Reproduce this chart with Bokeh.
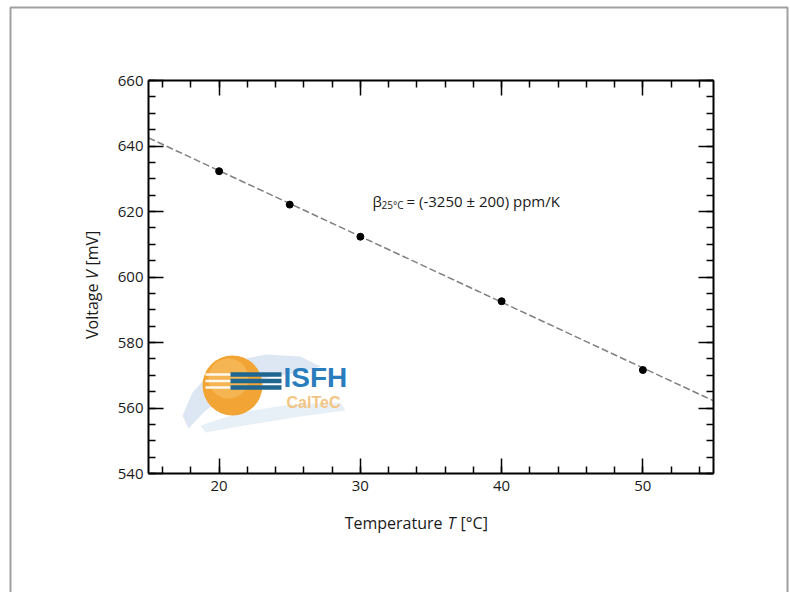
import math
from bokeh.plotting import figure
from bokeh.models import Label, BoxAnnotation, LinearAxis, SingleIntervalTicker, ColumnDataSource, Range1d
from bokeh.embed import file_html
from bokeh.resources import INLINE

# ---- data ----
temperature = [20, 25, 30, 40, 50]            # T [°C]
voltage = [632.3, 622.1, 612.3, 592.6, 571.6]  # V [mV]
fit_temperature = [15, 55]
fit_voltage = [642.5, 562.2]
x_limits = [15, 55]
y_limits = [540, 660]
x_major_step = 10
y_major_step = 20
annotation_text = "= (-3250 ± 200) ppm/K"

FONT = "Open Sans"
W, H = 790, 592
X0, X1 = x_limits
Y0, Y1 = y_limits
FL, FR, FT, FB = 148, 713, 80, 473   # plot box in page pixels


def px(xp):
    return X0 + (xp - FL) * (X1 - X0) / (FR - FL)


def py(yp):
    return Y1 - (yp - FT) * (Y1 - Y0) / (FB - FT)


# the figure frame spans the whole page; the plot box is drawn by four fixed axes
p = figure(width=W, height=H, x_range=Range1d(px(0), px(W)), y_range=Range1d(py(H), py(0)),
           output_backend="svg", toolbar_location=None, min_border=0)
p.xgrid.visible = False
p.ygrid.visible = False
p.outline_line_color = None
p.background_fill_color = "white"
p.border_fill_color = "white"

TXT = "#1a1a1a"


def style_axis(ax, labels=True, standoff=5):
    ax.axis_line_color = "black"
    ax.axis_line_width = 2
    ax.major_tick_line_color = "black"
    ax.major_tick_line_width = 1.5
    ax.minor_tick_line_color = "black"
    ax.minor_tick_line_width = 1.5
    ax.major_tick_in = 15
    ax.major_tick_out = 0
    ax.minor_tick_in = 7
    ax.minor_tick_out = 0
    ax.major_label_standoff = standoff
    ax.major_label_text_font = FONT
    ax.major_label_text_font_size = "15px"
    ax.major_label_text_color = TXT if labels else None
    ax.axis_label = None


bottom = p.xaxis[0]
left = p.yaxis[0]
bottom.ticker = SingleIntervalTicker(interval=x_major_step, num_minor_ticks=5)
left.ticker = SingleIntervalTicker(interval=y_major_step, num_minor_ticks=4)
bottom.fixed_location = Y0
bottom.bounds = (X0, X1)
left.fixed_location = X0
left.bounds = (Y0, Y1)
style_axis(bottom, True, 7)
style_axis(left, True, 5)

top = LinearAxis(ticker=SingleIntervalTicker(interval=x_major_step, num_minor_ticks=5),
                 fixed_location=Y1, bounds=(X0, X1))
right = LinearAxis(ticker=SingleIntervalTicker(interval=y_major_step, num_minor_ticks=4),
                   fixed_location=X1, bounds=(Y0, Y1))
style_axis(top, False)
style_axis(right, False)
p.add_layout(top, "above")
p.add_layout(right, "right")

# ---- logo approximation (ISFH CalTeC) ----
sw_x = [px(v) for v in [182, 192, 210, 235, 265, 300, 320, 300, 262, 232, 205, 188]]
sw_y = [py(v) for v in [415, 392, 372, 360, 354, 356, 366, 372, 378, 392, 410, 428]]
p.patch(sw_x, sw_y, fill_color="#aac4e2", fill_alpha=0.4, line_color=None)
sw2_x = [px(v) for v in [200, 240, 290, 340, 345, 300, 250, 205]]
sw2_y = [py(v) for v in [425, 412, 404, 402, 410, 416, 424, 432]]
p.patch(sw2_x, sw2_y, fill_color="#c4d6ea", fill_alpha=0.4, line_color=None)

p.scatter([px(232)], [py(385)], size=60, fill_color="#f2a535", line_color=None)
p.scatter([px(228)], [py(378)], size=40, fill_color="#f7c26a", fill_alpha=0.55, line_color=None)
for yy in (374, 380.5, 387):
    p.quad(left=px(205), right=px(231), top=py(yy - 1.2), bottom=py(yy + 1.2),
           fill_color="white", fill_alpha=0.9, line_color=None)
    p.quad(left=px(230), right=px(281), top=py(yy - 2.2), bottom=py(yy + 2.2),
           fill_color="#1f6690", line_color=None)

p.add_layout(Label(x=px(283), y=py(376.5), text="ISFH", text_font="Liberation Sans",
                   text_font_style="bold", text_font_size="28px", text_color="#2a7dbd",
                   text_align="left", text_baseline="middle"))
p.add_layout(Label(x=px(286), y=py(402), text="CalTeC", text_font="Liberation Sans",
                   text_font_style="bold", text_font_size="16px", text_color="#f3c584",
                   text_align="left", text_baseline="middle"))

# ---- fit line and data ----
p.line(fit_temperature, fit_voltage, line_color="#808080", line_width=1.5, line_dash="7 3")
src = ColumnDataSource(dict(t=temperature, v=voltage))
p.scatter("t", "v", source=src, size=7, fill_color="black", line_color="black")

# ---- annotation beta ----
p.add_layout(Label(x=px(372), y=py(200), text="β", text_font=FONT, text_font_size="15px",
                   text_color=TXT, text_align="left", text_baseline="middle"))
p.add_layout(Label(x=px(381), y=py(204), text="25°C", text_font=FONT, text_font_size="10px",
                   text_color=TXT, text_align="left", text_baseline="middle"))
p.add_layout(Label(x=px(406), y=py(200), text=annotation_text, text_font=FONT,
                   text_font_size="15px", text_color=TXT, text_align="left",
                   text_baseline="middle"))

# ---- axis titles with italic symbols ----
p.add_layout(Label(x=px(451), y=py(522), text="T", text_font=FONT, text_font_style="italic",
                   text_font_size="16px", text_color=TXT, text_align="center",
                   text_baseline="middle"))
p.add_layout(Label(x=px(442), y=py(522), text="Temperature", text_font=FONT,
                   text_font_size="16px", text_color=TXT, text_align="right",
                   text_baseline="middle"))
p.add_layout(Label(x=px(460), y=py(522), text="[°C]", text_font=FONT,
                   text_font_size="16px", text_color=TXT, text_align="left",
                   text_baseline="middle"))

p.add_layout(Label(x=px(91), y=py(274), text="V", text_font=FONT, text_font_style="italic",
                   text_font_size="16px", text_color=TXT, text_align="center",
                   text_baseline="middle", angle=math.pi / 2))
p.add_layout(Label(x=px(91), y=py(283), text="Voltage", text_font=FONT,
                   text_font_size="16px", text_color=TXT, text_align="right",
                   text_baseline="middle", angle=math.pi / 2))
p.add_layout(Label(x=px(91), y=py(265), text="[mV]", text_font=FONT,
                   text_font_size="16px", text_color=TXT, text_align="left",
                   text_baseline="middle", angle=math.pi / 2))

# ---- outer gray border ----
p.add_layout(BoxAnnotation(left=px(10), right=px(787), top=py(7), bottom=py(620),
                           fill_alpha=0, line_color="#a0a0a0", line_alpha=1, line_width=2,
                           level="overlay"))

open("out.html", "w").write(file_html(p, INLINE))
